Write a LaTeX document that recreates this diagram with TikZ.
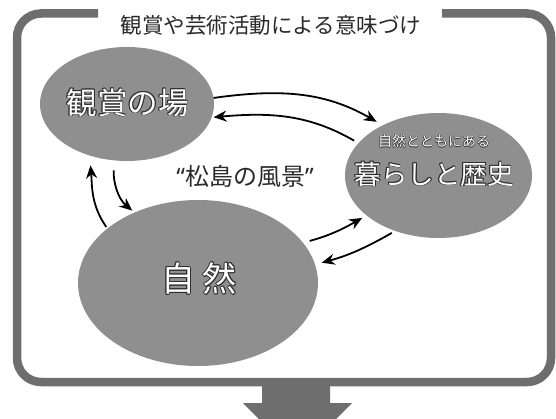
\documentclass[tikz,border=0pt]{standalone}
\usepackage{fontspec}
\setmainfont{Noto Sans CJK JP}
\newfontfamily\latinq{Noto Sans}
\usetikzlibrary{shapes.geometric,arrows.meta}
\definecolor{framegray}{HTML}{6E6E6E}
\definecolor{ellgray}{HTML}{8F8F8F}
\definecolor{olc}{HTML}{2E2E2E}
\definecolor{txtdark}{HTML}{2A2A2A}
\newcommand\olx[3]{\rlap{\kern#1\raise#2\hbox{\color{olc}#3}}}
\newcommand\outl[1]{\olx{-0.9pt}{0pt}{#1}\olx{0.9pt}{0pt}{#1}\olx{0pt}{0.9pt}{#1}\olx{0pt}{-0.9pt}{#1}\olx{-0.65pt}{0.65pt}{#1}\olx{0.65pt}{0.65pt}{#1}\olx{-0.65pt}{-0.65pt}{#1}\olx{0.65pt}{-0.65pt}{#1}{\color{white}#1}}
\newcommand\outls[1]{\olx{-0.6pt}{0pt}{#1}\olx{0.6pt}{0pt}{#1}\olx{0pt}{0.6pt}{#1}\olx{0pt}{-0.6pt}{#1}{\color{white}#1}}
\newcommand\fsz[1]{\fontsize{#1}{#1}\selectfont}
\tikzset{
  ell/.style={ellipse, fill=ellgray, draw=none, inner sep=0pt, outer sep=0pt},
  lbl/.style={inner sep=0pt, outer sep=0pt},
  conn/.style={line width=1.8pt, black, -{Stealth[length=13pt,width=11pt]}},
  frameline/.style={draw=framegray, line width=8.5pt, rounded corners=24pt}
}
\begin{document}
\begin{tikzpicture}[x=1pt,y=-1pt]
\clip (0,0) rectangle (556,419);
\fill[white] (0,0) rectangle (556,419);
% frame
\draw[frameline] (98,13.5) -- (17,13.5) -- (17,382) -- (551,382) -- (551,13.5) -- (442,13.5);
% bottom arrow
\fill[framegray] (262,380) -- (262,403) -- (243,403) -- (297.5,458) -- (352,403) -- (330,403) -- (330,380) -- cycle;
% title
\node[lbl, text=txtdark] (title) at (271,25) {\fsz{21.5}観賞や芸術活動による意味づけ};
% ellipses
\node[ell, minimum width=174pt, minimum height=114pt] (A) at (127,104) {};
\node[ell, minimum width=187pt, minimum height=125pt] (B) at (438.5,175.5) {};
\node[ell, minimum width=240pt, minimum height=166pt] (C) at (198,283) {};
% labels
\node[lbl] (Atxt) at (127.5,102.5) {\fsz{30.5}\outl{観賞の場}};
\node[lbl] (Bsmall) at (434,141.5) {\fsz{14}\outls{自然とともにある}};
\node[lbl] (Bbig) at (434,174) {\fsz{26.5}\outl{暮らしと歴史}};
\node[lbl] (Ctxt) at (199,278.5) {\fsz{34}\outl{自 然}};
\node[lbl, text=txtdark] (mid) at (245,176) {\fsz{24}{\latinq “}松島の風景{\latinq ”}};
% connectors
\draw[conn, shorten >=7pt] (A.4) to[out=8, in=150] (B.138);
\draw[conn, shorten <=5pt, shorten >=2pt] (B.158.6) to[out=150, in=5] (A.-9);
\draw[conn, shorten <=10pt, shorten >=3pt] (A.-103) to[out=-92, in=140] (C.132);
\draw[conn, shorten <=2pt, shorten >=10pt] (C.149.4) to[out=125, in=-85] (A.-126);
\draw[conn, shorten <=7pt, shorten >=5pt] (C.21) to[out=15, in=-150] (B.209);
\draw[conn, shorten <=4pt, shorten >=7pt] (B.232.6) to[out=-150, in=15] (C.9.6);
\end{tikzpicture}
\end{document}
